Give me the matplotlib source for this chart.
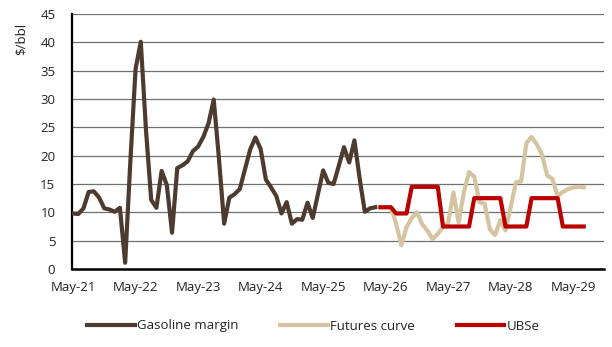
import numpy as np
import matplotlib
matplotlib.use('Agg')
import matplotlib.pyplot as plt

# Monthly series, month 0 = May-21
gasoline_margin = [9.8, 9.7, 10.7, 13.6, 13.7, 12.6, 10.7, 10.5, 10.1, 10.8,
                   1.1, 19.0, 35.3, 40.1, 24.5, 12.2, 10.8, 17.3, 14.8, 6.4,
                   17.8, 18.3, 19.0, 20.8, 21.6, 23.3, 25.7, 29.9, 19.5, 8.0,
                   12.6, 13.2, 14.1, 17.6, 21.1, 23.2, 21.2, 15.8, 14.4, 12.9,
                   9.8, 11.8, 8.0, 8.8, 8.7, 11.7, 9.0, 13.2, 17.4, 15.2,
                   15.0, 18.2, 21.5, 18.8, 22.7, 16.0, 10.1, 10.7, 10.9]
gasoline_start = 0

futures_curve = [10.9, 10.9, 10.9, 8.0, 4.2, 7.4, 9.0, 10.0, 7.9, 6.8,
                 5.3, 6.2, 7.4, 8.2, 13.5, 8.2, 13.5, 17.1, 16.3, 11.8,
                 11.5, 7.0, 6.0, 8.6, 6.8, 11.0, 15.3, 15.5, 22.2, 23.3,
                 22.0, 20.2, 16.5, 15.9, 12.9, 13.6, 14.1, 14.4, 14.5, 14.4]
futures_start = 59

ubse = [10.9, 10.9, 10.9, 9.8, 9.8, 9.8,
        14.5, 14.5, 14.5, 14.5, 14.5, 14.5,
        7.5, 7.5, 7.5, 7.5, 7.5, 7.5,
        12.5, 12.5, 12.5, 12.5, 12.5, 12.5,
        7.5, 7.5, 7.5, 7.5, 7.5,
        12.5, 12.5, 12.5, 12.5, 12.5, 12.5,
        7.5, 7.5, 7.5, 7.5, 7.5]
ubse_start = 59

tick_months = [0, 12, 24, 36, 48, 60, 72, 84, 96]
tick_labels = ['May-21', 'May-22', 'May-23', 'May-24', 'May-25',
               'May-26', 'May-27', 'May-28', 'May-29']

plt.rcParams['font.family'] = ['Open Sans', 'DejaVu Sans']

fig = plt.figure(figsize=(6.12, 3.47), dpi=100)
ax = fig.add_axes([72 / 612, 1 - 269 / 347, 532 / 612, 255 / 347])

brown = '#4e3b30'
tan = '#d5c4a1'
red = '#bb0000'

x = np.arange(len(gasoline_margin)) + gasoline_start
ax.plot(x, gasoline_margin, color=brown, lw=3, label='Gasoline margin',
        solid_joinstyle='round', zorder=3)
x = np.arange(len(futures_curve)) + futures_start
ax.plot(x, futures_curve, color=tan, lw=3, label='Futures curve',
        solid_joinstyle='round', zorder=3)
x = np.arange(len(ubse)) + ubse_start
ax.plot(x, ubse, color=red, lw=3, label='UBSe',
        solid_joinstyle='round', zorder=4)

ax.set_xlim(-0.2, 101.9)
ax.set_ylim(0, 45)
ax.set_yticks(np.arange(0, 46, 5))
ax.set_xticks(tick_months)
ax.set_xticklabels(tick_labels)
ax.tick_params(axis='both', length=0, labelsize=9.5, colors='#222222')
ax.tick_params(axis='y', pad=12)
ax.tick_params(axis='x', pad=9)

ax.grid(axis='y', color='#707070', lw=0.9)
ax.set_axisbelow(True)
for side in ['top', 'right']:
    ax.spines[side].set_visible(False)
ax.spines['left'].set_linewidth(1.6)
ax.spines['bottom'].set_linewidth(1.8)

fig.text(21 / 612, 1 - 39 / 347, '$/bbl', rotation=90, ha='center',
         va='center', fontsize=9.5, color='#222222')

fig.legend(loc='center', bbox_to_anchor=(0.512, 1 - 326 / 347), ncol=3,
           frameon=False, fontsize=9.5, handlelength=3.6, handletextpad=0.15,
           columnspacing=3.2, labelcolor='#222222')

fig.savefig('out.png', dpi=100)
